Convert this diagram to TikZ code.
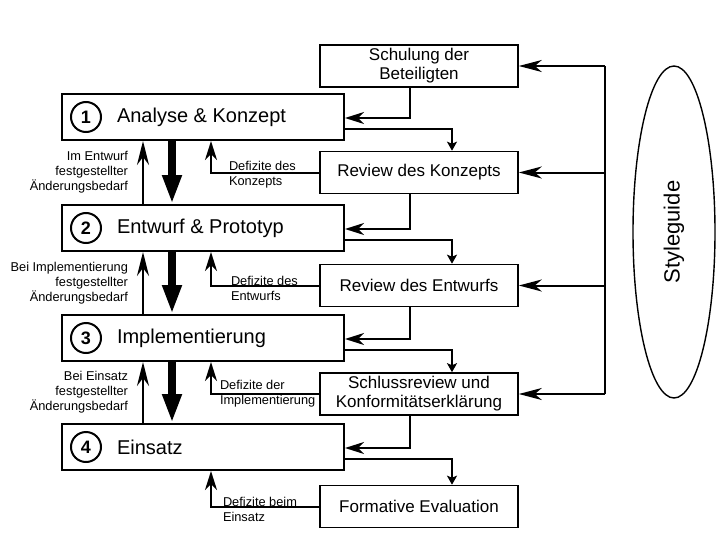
\documentclass[tikz,border=0pt]{standalone}
\usepackage{fontspec}
\setmainfont{Liberation Sans}
\usetikzlibrary{positioning,arrows.meta,shapes.geometric}

\begin{document}
\begin{tikzpicture}[x=1pt,y=-1pt,line width=2pt,
  phase/.style={draw,minimum width=282pt,minimum height=46pt},
  num/.style={draw,circle,minimum size=30pt,inner sep=0pt,font=\fontsize{18}{18}\selectfont\bfseries},
  ptxt/.style={inner sep=0pt,font=\fontsize{20}{24}\selectfont},
  rbox/.style={draw,line width=1.6pt,minimum width=198pt,minimum height=42pt,
    align=center,font=\fontsize{17}{19}\selectfont},
  lbl/.style={inner sep=0pt,font=\fontsize{12.8}{15}\selectfont},
  arr/.style={-{Stealth[length=19pt,width=12pt,inset=6pt]}},
  arrup/.style={-{Stealth[length=24pt,width=12pt,inset=8pt]}},
  arrl/.style={-{Stealth[length=23pt,width=12pt,inset=7pt]}},
  arrs/.style={-{Stealth[length=9pt,width=10pt,inset=2pt]}},
  fat/.style={line width=7.5pt,-{Triangle[length=29pt,width=18pt]}}]
 \useasboundingbox (0,0) rectangle (718,538);
 % phases
 \node[phase] (ph1) at (203,117) {};
 \node[phase] (ph2) at (203,228) {};
 \node[phase] (ph3) at (203,338) {};
 \node[phase] (ph4) at (203,447) {};
 \foreach \i/\t in {1/Analyse \& Konzept,2/Entwurf \& Prototyp,3/Implementierung,4/Einsatz}
  {\node[num] (n\i) at ([xshift=25pt]ph\i.west) {\i};
   \node[ptxt,right=14pt of n\i] (t\i) {\t};}
 % reviews
 \node[rbox] (rb0) at (419,66) {Schulung der\\Beteiligten};
 \node[rbox] (rb1) at (419,172.5) {Review des Konzepts};
 \node[rbox] (rb2) at (419,285.5) {Review des Entwurfs};
 \node[rbox] (rb3) at (419,394) {Schlussreview und\\Konformitätserklärung};
 \node[rbox] (rb4) at (419,506.5) {Formative Evaluation};
 \node[draw,ellipse,line width=1.4pt,rotate=90,minimum width=332pt,minimum height=82pt,
   font=\fontsize{22}{22}\selectfont] (sg) at (674,232) {Styleguide};
 % styleguide line
 \coordinate (rl) at (605,0);
 \draw (rl |- rb0.east) -- (rl |- rb3.east);
 \foreach \i in {0,...,3} {\draw[arrl] (rl |- rb\i.east) -- (rb\i.east);}
 \foreach \i [count=\j from 0] in {1,...,4} {
  \draw[arr] ([xshift=-9pt]rb\j.south) |- ([yshift=-1pt]ph\i.east);
  \draw[arrs] ([yshift=-12pt]ph\i.east) -| ([xshift=33pt]rb\i.north);
  \draw[arr] (rb\i.west) -| ([xshift=8pt]ph\i.south);}
 \foreach \a/\b in {1/2,2/3,3/4} {
  \draw[arrup] ([xshift=-60pt]ph\b.north) -- ([xshift=-60pt]ph\a.south);
  \draw[fat] ([xshift=-31pt]ph\a.south) -- ([xshift=-31pt]ph\b.north);}
 % labels
 \node[lbl,anchor=east,align=right] (c1) at (129,172) {Im Entwurf\\festgestellter\\Änderungsbedarf};
 \node[lbl,anchor=east,align=right] (c2) at (129,283) {Bei Implementierung\\festgestellter\\Änderungsbedarf};
 \node[lbl,anchor=east,align=right] (c3) at (129,392) {Bei Einsatz\\festgestellter\\Änderungsbedarf};
 \node[lbl,anchor=west,align=left] (d1) at (228,175) {Defizite des\\Konzepts};
 \node[lbl,anchor=west,align=left] (d2) at (230,288) {Defizite des\\Entwurfs};
 \node[lbl,anchor=west,align=left] (d3) at (219,394) {Defizite der\\Implementierung};
 \node[lbl,anchor=west,align=left] (d4) at (222,509) {Defizite beim\\Einsatz};
\end{tikzpicture}
\end{document}
